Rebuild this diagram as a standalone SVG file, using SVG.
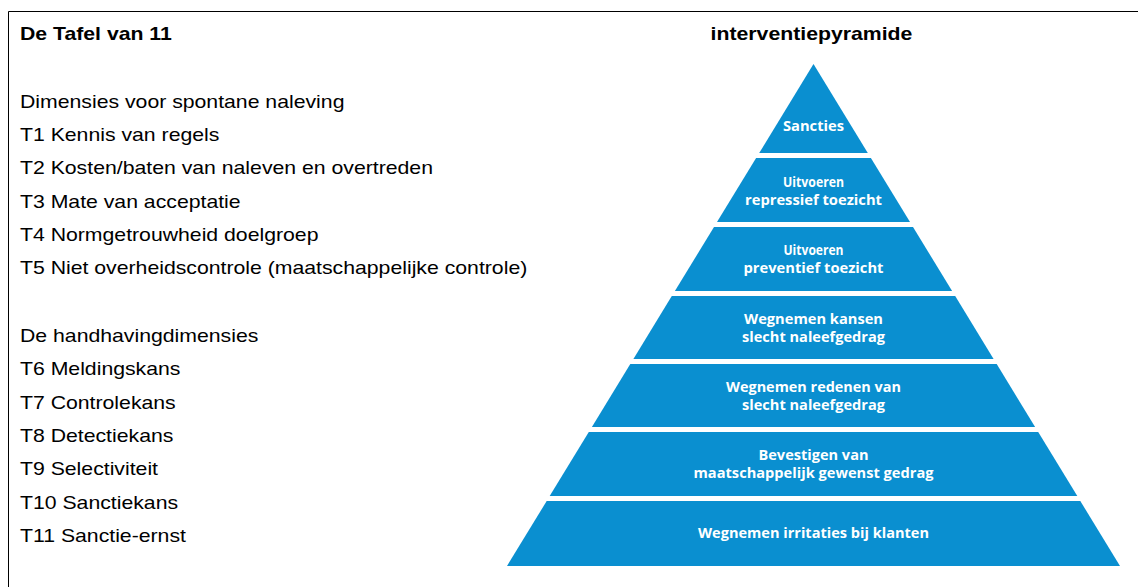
<svg xmlns="http://www.w3.org/2000/svg" width="1138" height="587" viewBox="0 0 1138 587">
  <style>
    .lt { font-family: "Liberation Sans", Arial, sans-serif; font-size: 18px; fill: #000; }
    .b { font-weight: bold; }
    .band { fill: #0a8fd0; }
    .pt { font-family: "Open Sans", "DejaVu Sans", sans-serif; font-weight: bold; font-size: 13.5px; fill: #ffffff; text-anchor: middle; }
  </style>
  <rect x="0" y="0" width="1138" height="587" fill="#ffffff"/>
  <path d="M8.5,587 V11.5 H1138" fill="none" stroke="#000" stroke-width="1"/>

  <g id="left-list" transform="scale(1.18 1)">
    <text class="lt b" x="16.95" y="40">De Tafel van 11</text>
    <text class="lt" x="16.95" y="107.7">Dimensies voor spontane naleving</text>
    <text class="lt" x="16.95" y="141">T1 Kennis van regels</text>
    <text class="lt" x="16.95" y="174.3">T2 Kosten/baten van naleven en overtreden</text>
    <text class="lt" x="16.95" y="207.6">T3 Mate van acceptatie</text>
    <text class="lt" x="16.95" y="241">T4 Normgetrouwheid doelgroep</text>
    <text class="lt" x="16.95" y="274.3">T5 Niet overheidscontrole (maatschappelijke controle)</text>
    <text class="lt" x="16.95" y="342">De handhavingdimensies</text>
    <text class="lt" x="16.95" y="375.4">T6 Meldingskans</text>
    <text class="lt" x="16.95" y="408.7">T7 Controlekans</text>
    <text class="lt" x="16.95" y="442">T8 Detectiekans</text>
    <text class="lt" x="16.95" y="475.4">T9 Selectiviteit</text>
    <text class="lt" x="16.95" y="508.8">T10 Sanctiekans</text>
    <text class="lt" x="16.95" y="542.1">T11 Sanctie-ernst</text>
    <text class="lt b" x="687.7" y="40" text-anchor="middle">interventiepyramide</text>
  </g>

  <g id="pyramid">
    <g id="band1">
      <polygon class="band" points="813.5,64 867.8,153 759.2,153"/>
      <text class="pt" x="813.5" y="130.5" textLength="61" lengthAdjust="spacingAndGlyphs">Sancties</text>
    </g>
    <g id="band2">
      <polygon class="band" points="756.1,158 870.9,158 910,222 717,222"/>
      <text class="pt" x="813.5" y="187" textLength="61" lengthAdjust="spacingAndGlyphs">Uitvoeren</text>
      <text class="pt" x="813.5" y="205" textLength="137" lengthAdjust="spacingAndGlyphs">repressief toezicht</text>
    </g>
    <g id="band3">
      <polygon class="band" points="714,227 913,227 952.1,291 674.9,291"/>
      <text class="pt" x="813.5" y="255" textLength="60" lengthAdjust="spacingAndGlyphs">Uitvoeren</text>
      <text class="pt" x="813.5" y="273" textLength="140" lengthAdjust="spacingAndGlyphs">preventief toezicht</text>
    </g>
    <g id="band4">
      <polygon class="band" points="671.8,296 955.2,296 993.6,359 633.4,359"/>
      <text class="pt" x="813.5" y="323.5" textLength="139" lengthAdjust="spacingAndGlyphs">Wegnemen kansen</text>
      <text class="pt" x="813.5" y="341.5" textLength="143" lengthAdjust="spacingAndGlyphs">slecht naleefgedrag</text>
    </g>
    <g id="band5">
      <polygon class="band" points="630.3,364 996.7,364 1035.1,427 591.9,427"/>
      <text class="pt" x="813.5" y="391.5" textLength="175" lengthAdjust="spacingAndGlyphs">Wegnemen redenen van</text>
      <text class="pt" x="813.5" y="409.5" textLength="143" lengthAdjust="spacingAndGlyphs">slecht naleefgedrag</text>
    </g>
    <g id="band6">
      <polygon class="band" points="588.8,432 1038.2,432 1077.3,496 549.7,496"/>
      <text class="pt" x="813.5" y="460" textLength="110" lengthAdjust="spacingAndGlyphs">Bevestigen van</text>
      <text class="pt" x="813.5" y="478" textLength="240" lengthAdjust="spacingAndGlyphs">maatschappelijk gewenst gedrag</text>
    </g>
    <g id="band7">
      <polygon class="band" points="546.7,501 1080.3,501 1120,566 507,566"/>
      <text class="pt" x="813.5" y="538" textLength="231" lengthAdjust="spacingAndGlyphs">Wegnemen irritaties bij klanten</text>
    </g>
  </g>
  <g id="connectors"/>
</svg>
